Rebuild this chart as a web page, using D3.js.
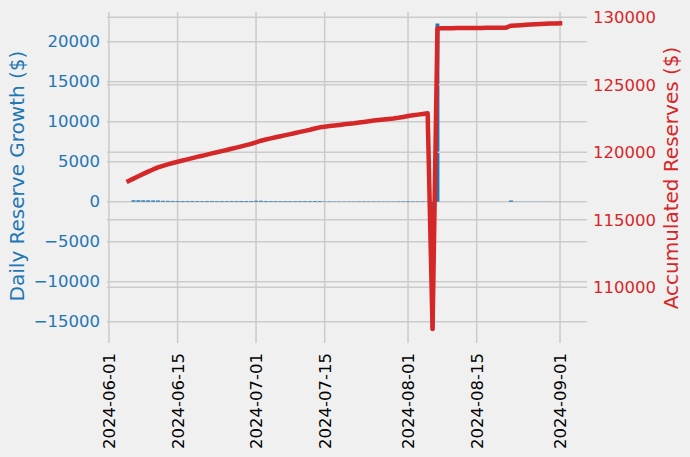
<!DOCTYPE html>
<html>
<head>
<meta charset="utf-8">
<script src="https://cdn.jsdelivr.net/npm/d3@7/dist/d3.min.js"></script>
<style>
  html, body { margin: 0; padding: 0; background: #f0f0f0; }
  svg { display: block; font-family: "DejaVu Sans", sans-serif; }
</style>
</head>
<body>
<svg id="chart" width="690" height="457"></svg>
<script>
// ---------------- DATA ----------------
// Accumulated reserves, one value per day starting 2024-06-05
const accumStart = "2024-06-05";
const accumValues = [
  117870, 118050, 118230, 118400, 118570, 118730, 118880, 119000, 119110, 119210,
  119300, 119390, 119480, 119570, 119660, 119740, 119830, 119920, 120000, 120090,
  120170, 120260, 120350, 120440, 120530, 120620, 120740, 120860, 120950, 121030,
  121110, 121190, 121270, 121350, 121430, 121510, 121590, 121670, 121760, 121850,
  121900, 121950, 121990, 122030, 122070, 122110, 122150, 122200, 122250, 122300,
  122350, 122390, 122430, 122470, 122510, 122560, 122620, 122690, 122740, 122790,
  122840, 122890, 106910, 129180, 129185, 129190, 129195, 129200, 129205, 129208,
  129211, 129214, 129217, 129220, 129222, 129225, 129228, 129230, 129380, 129400,
  129420, 129440, 129460, 129480, 129500, 129520, 129540, 129550, 129560
];
// Daily reserve growth, one value per day starting 2024-06-06
const growthStart = "2024-06-06";
const growthValues = [
  180, 180, 170, 170, 160, 150, 120, 110, 100, 90,
  90, 90, 90, 90, 80, 90, 90, 80, 90, 80,
  90, 90, 90, 90, 90, 120, 120, 90, 80, 80,
  80, 80, 80, 80, 80, 80, 80, 90, 90, 50,
  50, 40, 40, 40, 40, 40, 50, 50, 50, 50,
  40, 40, 40, 40, 50, 60, 70, 50, 50, 50,
  50, -15980, 22270, 5, 5, 5, 5, 5, 3, 3,
  3, 3, 3, 2, 3, 3, 2, 150, 20, 20,
  20, 20, 20, 20, 20, 20, 10, 10
];
const xTickLabels = ["2024-06-01", "2024-06-15", "2024-07-01", "2024-07-15", "2024-08-01", "2024-08-15", "2024-09-01"];
const leftTicks = [-15000, -10000, -5000, 0, 5000, 10000, 15000, 20000];
const rightTicks = [110000, 115000, 120000, 125000, 130000];
const leftLabel = "Daily Reserve Growth ($)";
const rightLabel = "Accumulated Reserves ($)";

// ---------------- LAYOUT ----------------
const W = 690, H = 457;
const plot = { left: 107, right: 587, top: 12, bottom: 343 };
const blue = "#1f77b4", red = "#d62728", grid = "#cbcbcb";
const fontSize = 16.5;

const parse = d3.utcParse("%Y-%m-%d");
const DAY = 864e5;

const accum = accumValues.map((v, i) => ({ date: new Date(parse(accumStart).getTime() + i * DAY), value: v }));
const growth = growthValues.map((v, i) => ({ date: new Date(parse(growthStart).getTime() + i * DAY), value: v }));

const x = d3.scaleUtc()
  .domain([new Date(parse("2024-06-01").getTime() - 0.4 * DAY), new Date(parse("2024-09-01").getTime() + 5.5 * DAY)])
  .range([plot.left, plot.right]);
const yL = d3.scaleLinear().domain([-17662, 23712]).range([plot.bottom, plot.top]);
const yR = d3.scaleLinear().domain([105874, 130393]).range([plot.bottom, plot.top]);

const svg = d3.select("#chart");
svg.append("rect").attr("width", W).attr("height", H).attr("fill", "#f0f0f0");

// vertical grid (x)
const xTicks = xTickLabels.map(parse);
svg.append("g").selectAll("line").data(xTicks).join("line")
  .attr("x1", d => x(d)).attr("x2", d => x(d))
  .attr("y1", plot.top).attr("y2", plot.bottom)
  .attr("stroke", grid).attr("stroke-width", 1.5);

// left horizontal grid
svg.append("g").selectAll("line").data(leftTicks).join("line")
  .attr("x1", plot.left).attr("x2", plot.right)
  .attr("y1", d => yL(d)).attr("y2", d => yL(d))
  .attr("stroke", grid).attr("stroke-width", 1.5);

// bars
const barW = x(new Date(DAY * 0.8)) - x(new Date(0));
svg.append("g").selectAll("rect").data(growth).join("rect")
  .attr("x", d => x(new Date(d.date.getTime() - 0.4 * DAY)))
  .attr("width", barW)
  .attr("y", d => Math.min(yL(d.value), yL(0)))
  .attr("height", d => Math.abs(yL(d.value) - yL(0)))
  .attr("fill", blue);

// right horizontal grid (twin axis drawn on top of bars)
svg.append("g").selectAll("line").data(rightTicks).join("line")
  .attr("x1", plot.left).attr("x2", plot.right)
  .attr("y1", d => yR(d)).attr("y2", d => yR(d))
  .attr("stroke", grid).attr("stroke-width", 1.5);

// accumulated line
const line = d3.line().x(d => x(d.date)).y(d => yR(d.value));
svg.append("path").datum(accum)
  .attr("d", line)
  .attr("fill", "none")
  .attr("stroke", red)
  .attr("stroke-width", 4.5)
  .attr("stroke-linejoin", "round")
  .attr("stroke-linecap", "square");

// axes (tick labels only, no spines)
const fmt = d3.format("d");
const axL = d3.axisLeft(yL).tickValues(leftTicks).tickSize(0).tickPadding(7).tickFormat(d => d < 0 ? "\u2212" + Math.abs(d) : fmt(d));
const gL = svg.append("g").attr("transform", `translate(${plot.left},0)`).call(axL);
gL.select(".domain").remove();
gL.selectAll("text").attr("fill", blue).style("font-size", fontSize + "px").style("font-family", "DejaVu Sans");

const axR = d3.axisRight(yR).tickValues(rightTicks).tickSize(0).tickPadding(6).tickFormat(fmt);
const gR = svg.append("g").attr("transform", `translate(${plot.right},0)`).call(axR);
gR.select(".domain").remove();
gR.selectAll("text").attr("fill", red).style("font-size", fontSize + "px").style("font-family", "DejaVu Sans");

const axB = d3.axisBottom(x).tickValues(xTicks).tickSize(0).tickFormat(d3.utcFormat("%Y-%m-%d"));
const gB = svg.append("g").attr("transform", `translate(0,${plot.bottom})`).call(axB);
gB.select(".domain").remove();
gB.selectAll("text")
  .attr("fill", "#000")
  .style("font-size", fontSize + "px").style("font-family", "DejaVu Sans")
  .attr("transform", "rotate(-90)")
  .attr("text-anchor", "end")
  .attr("dy", "0.35em")
  .attr("x", -10)
  .attr("y", 0);

// axis titles
svg.append("text")
  .attr("transform", `translate(17,176) rotate(-90)`)
  .attr("text-anchor", "middle").attr("dominant-baseline", "central")
  .attr("fill", blue).style("font-size", "20px")
  .text(leftLabel);
svg.append("text")
  .attr("transform", `translate(671,178) rotate(-90)`)
  .attr("text-anchor", "middle").attr("dominant-baseline", "central")
  .attr("fill", red).style("font-size", "20px")
  .text(rightLabel);
</script>
</body>
</html>
